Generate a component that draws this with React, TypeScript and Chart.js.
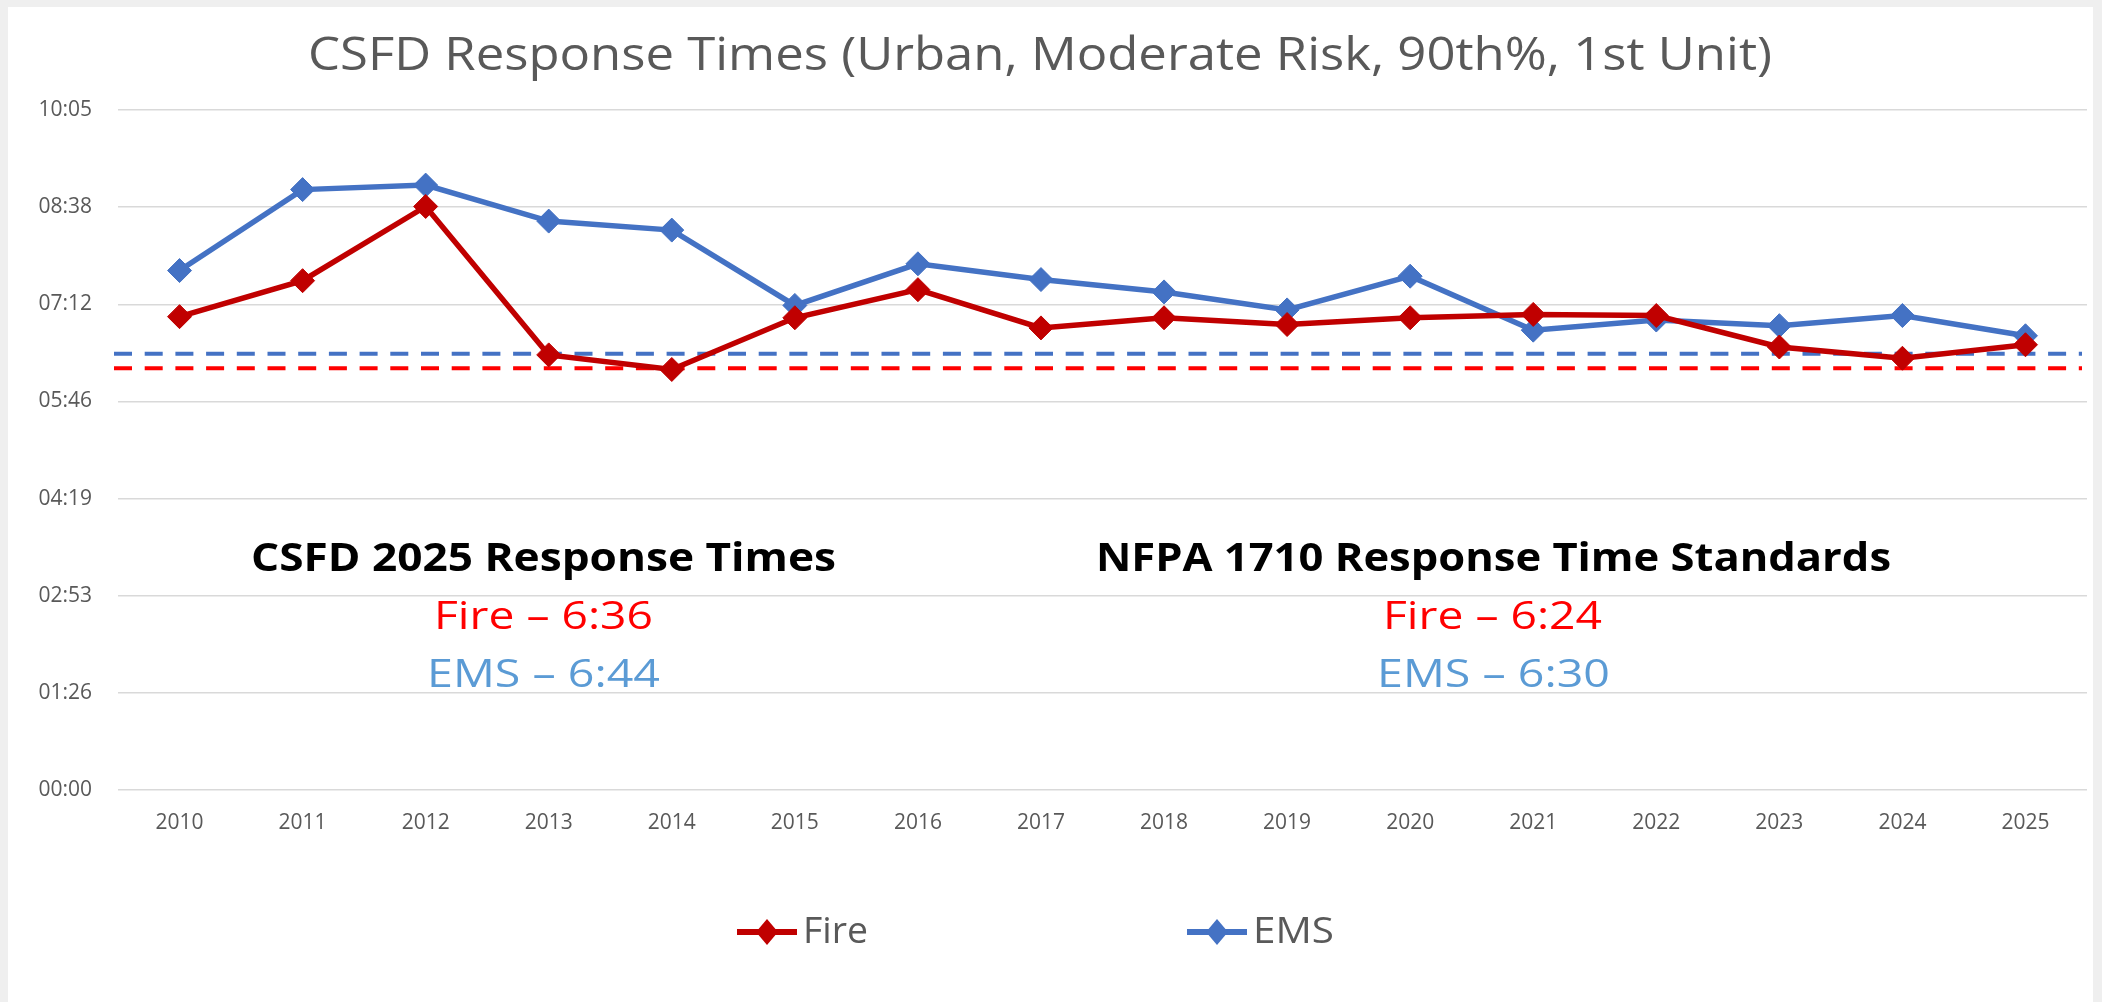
import React, { useEffect, useRef } from 'react';
import { Chart, registerables } from 'chart.js';

Chart.register(...registerables);

// ---------- data ----------
const years = ['2010', '2011', '2012', '2013', '2014', '2015', '2016', '2017', '2018', '2019', '2020', '2021', '2022', '2023', '2024', '2025'];
// response times in seconds
const fireSeconds = [421, 453, 519, 387, 374, 420, 445, 411, 420, 414, 420, 423, 422, 394, 384, 396];
const emsSeconds = [462, 534, 538, 506, 498, 431, 468, 454, 443, 427, 457, 409, 418, 413, 422, 404];
const yTickSeconds = [0, 86.4, 172.8, 259.2, 345.6, 432, 518.4, 604.8];
const yTickLabels = ['00:00', '01:26', '02:53', '04:19', '05:46', '07:12', '08:38', '10:05'];
// dashed standard lines (seconds, as drawn)
const fireStandardLine = 375;
const emsStandardLine = 388;

const titleText = 'CSFD Response Times (Urban, Moderate Risk, 90th%, 1st Unit)';
const csfdHeading = 'CSFD 2025 Response Times';
const csfdLines = ['Fire – 6:36', 'EMS – 6:44'];
const nfpaHeading = 'NFPA 1710 Response Time Standards';
const nfpaLines = ['Fire – 6:24', 'EMS – 6:30'];
const legendLabels = ['Fire', 'EMS'];

const FONT = '"Open Sans", "Noto Sans", sans-serif';
const FIRE_COLOR = '#c00000';
const EMS_COLOR = '#4472c4';
const TEXT_GRAY = '#595959';

function fitText(ctx: CanvasRenderingContext2D, text: string, left: number, right: number, baseline: number, font: string, color: string) {
  ctx.save();
  ctx.font = font;
  const w = ctx.measureText(text).width;
  const target = right - left;
  ctx.translate(left, baseline);
  ctx.scale(target / w, 1);
  ctx.fillStyle = color;
  ctx.textAlign = 'left';
  ctx.textBaseline = 'alphabetic';
  ctx.fillText(text, 0, 0);
  ctx.restore();
}

function legendMarker(ctx: CanvasRenderingContext2D, x0: number, x1: number, y: number, color: string) {
  ctx.save();
  ctx.strokeStyle = color;
  ctx.lineWidth = 6;
  ctx.beginPath();
  ctx.moveTo(x0, y);
  ctx.lineTo(x1, y);
  ctx.stroke();
  const cx = (x0 + x1) / 2;
  ctx.fillStyle = color;
  ctx.beginPath();
  ctx.moveTo(cx - 11, y);
  ctx.lineTo(cx, y - 13);
  ctx.lineTo(cx + 11, y);
  ctx.lineTo(cx, y + 13);
  ctx.closePath();
  ctx.fill();
  ctx.restore();
}

const decorPlugin = {
  id: 'decor',
  beforeDraw(chart: any) {
    const { ctx, width, height } = chart;
    ctx.save();
    ctx.fillStyle = '#efefef';
    ctx.fillRect(0, 0, width, height);
    ctx.fillStyle = '#ffffff';
    ctx.fillRect(8, 7, width - 17, height - 7);
    ctx.restore();
  },
  beforeDatasetsDraw(chart: any) {
    const { ctx, chartArea, scales } = chart;
    const lines: [number, string][] = [
      [emsStandardLine, EMS_COLOR],
      [fireStandardLine, '#ff0000'],
    ];
    ctx.save();
    ctx.lineWidth = 4;
    ctx.setLineDash([18, 12.7]);
    for (const [v, c] of lines) {
      const y = scales.y.getPixelForValue(v);
      ctx.strokeStyle = c;
      ctx.beginPath();
      ctx.moveTo(chartArea.left - 4, y);
      ctx.lineTo(chartArea.right - 5, y);
      ctx.stroke();
    }
    ctx.restore();
  },
  afterDraw(chart: any) {
    const ctx = chart.ctx as CanvasRenderingContext2D;
    // title
    fitText(ctx, titleText, 308, 1772, 70, `46px ${FONT}`, TEXT_GRAY);
    // CSFD block
    fitText(ctx, csfdHeading, 251, 836, 571, `bold 40px ${FONT}`, '#000000');
    fitText(ctx, csfdLines[0], 434, 653, 629, `39px ${FONT}`, '#ff0000');
    fitText(ctx, csfdLines[1], 427, 660, 687, `39px ${FONT}`, '#5b9bd5');
    // NFPA block
    fitText(ctx, nfpaHeading, 1096, 1891, 571, `bold 40px ${FONT}`, '#000000');
    fitText(ctx, nfpaLines[0], 1383, 1602, 629, `39px ${FONT}`, '#ff0000');
    fitText(ctx, nfpaLines[1], 1377, 1610, 687, `39px ${FONT}`, '#5b9bd5');
    // legend
    legendMarker(ctx, 737, 797, 932, FIRE_COLOR);
    fitText(ctx, legendLabels[0], 803, 868, 943, `37px ${FONT}`, TEXT_GRAY);
    legendMarker(ctx, 1187, 1247, 932, EMS_COLOR);
    fitText(ctx, legendLabels[1], 1253, 1334, 943, `37px ${FONT}`, TEXT_GRAY);
  },
};

export default function App() {
  const canvasRef = useRef<HTMLCanvasElement | null>(null);

  useEffect(() => {
    const canvas = canvasRef.current;
    if (!canvas) return;
    const chart = new Chart(canvas, {
      type: 'line',
      data: {
        labels: years,
        datasets: [
          {
            label: legendLabels[0],
            data: fireSeconds,
            borderColor: FIRE_COLOR,
            backgroundColor: FIRE_COLOR,
            borderWidth: 5.5,
            pointStyle: 'rectRot',
            pointRadius: 12,
            pointBackgroundColor: FIRE_COLOR,
            pointBorderColor: FIRE_COLOR,
            pointBorderWidth: 1,
            tension: 0,
          },
          {
            label: legendLabels[1],
            data: emsSeconds,
            borderColor: EMS_COLOR,
            backgroundColor: EMS_COLOR,
            borderWidth: 5.5,
            pointStyle: 'rectRot',
            pointRadius: 12,
            pointBackgroundColor: EMS_COLOR,
            pointBorderColor: EMS_COLOR,
            pointBorderWidth: 1,
            tension: 0,
          },
        ],
      },
      options: {
        responsive: false,
        animation: false,
        devicePixelRatio: 1,
        layout: { padding: { top: 110, right: 15, bottom: 152, left: 0 } },
        plugins: {
          legend: { display: false },
          title: { display: false },
          tooltip: { enabled: false },
        },
        scales: {
          x: {
            type: 'category',
            offset: true,
            grid: { display: false, drawTicks: false },
            border: { display: false },
            ticks: {
              font: { family: FONT, size: 21 },
              color: TEXT_GRAY,
              padding: 20,
              maxRotation: 0,
              autoSkip: false,
            },
            afterFit: (s: any) => { s.height = 60; },
          },
          y: {
            min: 0,
            max: 604.8,
            grid: { color: '#d9d9d9', lineWidth: 1.5, drawTicks: false },
            border: { display: false },
            ticks: {
              font: { family: FONT, size: 21 },
              color: TEXT_GRAY,
              padding: 26,
              callback: (_v: any, i: number) => yTickLabels[i],
            },
            afterBuildTicks: (s: any) => { s.ticks = yTickSeconds.map((v) => ({ value: v })); },
            afterFit: (s: any) => { s.width = 118; },
          },
        },
      },
      plugins: [decorPlugin],
    } as any);
    return () => chart.destroy();
  }, []);

  return (
    <canvas
      ref={canvasRef}
      width={2102}
      height={1002}
      style={{ position: 'fixed', left: 0, top: 0, width: 2102, height: 1002, display: 'block' }}
    />
  );
}
